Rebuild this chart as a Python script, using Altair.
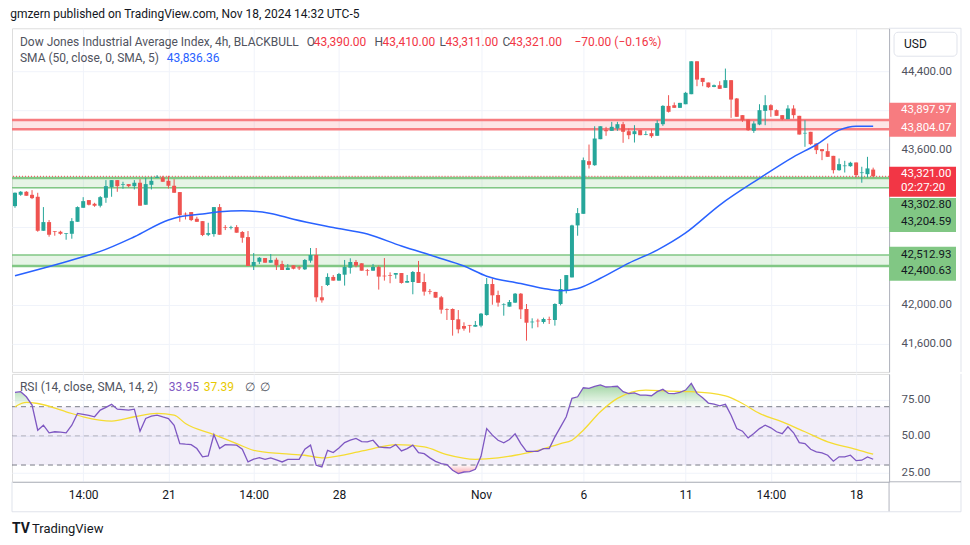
import altair as alt
import pandas as pd

FONT = "Roboto"
UP, DN = "#26A69A", "#EF5350"
GRID = "#F0F3FA"
AXC = "#B2B5BE"
FRAME = "#E0E3EB"
TXT = "#131722"
GRAY = "#50535E"

# ---------------- data ----------------
opens = [43015, 43131, 43162, 43131, 43111, 42762, 42851, 42759, 42752, 42731,
         42731, 42854, 42998, 43077, 43039, 43019, 43101, 43210, 43282, 43234,
         43241, 43220, 43255, 43029, 43234, 43306, 43309, 43275, 43224, 43159,
         42937, 42954, 42885, 42861, 42721, 42728, 43005, 42800, 42793, 42800,
         42749, 42697, 42400, 42444, 42482, 42434, 42465, 42420, 42359, 42407,
         42386, 42366, 42455, 42513, 42079, 42205, 42288, 42250, 42311, 42383,
         42441, 42428, 42359, 42352, 42390, 42301, 42305, 42311, 42328, 42229,
         42236, 42339, 42236, 42144, 42134, 42079, 41959, 41959, 41853, 41784,
         41795, 41777, 41788, 41897, 42215, 42102, 42000, 41983, 42024, 42116,
         41959, 41822, 41839, 41825, 41853, 41846, 42010, 42153, 42283, 42817,
         42936, 43476, 43435, 43702, 43795, 43788, 43812, 43856, 43784, 43754,
         43795, 43747, 43764, 43737, 43856, 44044, 44051, 44024, 44061, 44164,
         44502, 44331, 44284, 44239, 44256, 44229, 44308, 44120, 43949, 43904,
         43788, 43853, 43993, 44051, 44000, 43949, 43908, 44017, 43942, 43761,
         43778, 43658, 43600, 43579, 43531, 43384, 43425, 43425, 43463, 43354,
         43343, 43390]
highs = [43155, 43169, 43169, 43179, 43152, 43005, 42872, 42759, 42762, 42738,
         42892, 43012, 43107, 43077, 43049, 43118, 43282, 43282, 43282, 43265,
         43241, 43282, 43292, 43306, 43316, 43333, 43326, 43326, 43292, 43159,
         42950, 42954, 42906, 42861, 42844, 43005, 43036, 42820, 42813, 42820,
         42759, 42759, 42533, 42492, 42482, 42523, 42485, 42454, 42420, 42407,
         42400, 42472, 42585, 42585, 42195, 42325, 42308, 42329, 42462, 42479,
         42462, 42428, 42370, 42421, 42404, 42482, 42335, 42328, 42328, 42308,
         42349, 42452, 42322, 42164, 42134, 42093, 41965, 41965, 41948, 41822,
         41795, 41836, 41918, 42277, 42273, 42147, 42017, 42051, 42123, 42123,
         42010, 41863, 41859, 41870, 41880, 42017, 42266, 42307, 42824, 42995,
         43514, 43647, 43835, 43835, 43829, 43880, 43880, 43880, 43812, 43846,
         43795, 43784, 43805, 43897, 44051, 44154, 44079, 44075, 44188, 44502,
         44502, 44331, 44284, 44263, 44297, 44427, 44308, 44125, 43949, 43904,
         43887, 44061, 44154, 44061, 44007, 43949, 44051, 44051, 43942, 43897,
         43778, 43658, 43600, 43658, 43531, 43504, 43480, 43470, 43463, 43419,
         43521, 43410]
lows = [42998, 43121, 43121, 43087, 42752, 42762, 42701, 42711, 42721, 42670,
        42680, 42854, 42998, 43022, 43008, 43002, 43049, 43111, 43162, 43193,
        43207, 43186, 43019, 43029, 43186, 43306, 43265, 43196, 43152, 42854,
        42878, 42861, 42854, 42707, 42707, 42701, 42721, 42769, 42776, 42742,
        42639, 42400, 42359, 42420, 42434, 42434, 42359, 42359, 42359, 42366,
        42359, 42359, 42434, 42034, 42024, 42195, 42250, 42250, 42199, 42322,
        42387, 42352, 42301, 42352, 42158, 42250, 42223, 42270, 42219, 42229,
        42110, 42226, 42096, 42110, 42075, 41911, 41846, 41685, 41709, 41736,
        41716, 41777, 41771, 41890, 42003, 41983, 41890, 41983, 42020, 41856,
        41634, 41760, 41771, 41808, 41805, 41788, 41996, 42119, 42283, 42711,
        42936, 43401, 43429, 43702, 43737, 43788, 43788, 43665, 43702, 43668,
        43743, 43743, 43716, 43737, 43839, 43976, 44024, 44024, 44061, 44164,
        44246, 44246, 44229, 44236, 44219, 44229, 43921, 43932, 43880, 43788,
        43767, 43846, 43846, 43932, 43942, 43897, 43908, 43914, 43750, 43624,
        43641, 43549, 43487, 43521, 43350, 43378, 43360, 43419, 43309, 43255,
        43309, 43311]
closes = [43152, 43162, 43121, 43097, 42762, 42851, 42721, 42752, 42731, 42738,
          42861, 43005, 43066, 43029, 43019, 43107, 43220, 43282, 43220, 43241,
          43220, 43255, 43019, 43241, 43275, 43316, 43265, 43224, 43152, 42923,
          42930, 42872, 42854, 42718, 42738, 43005, 42721, 42793, 42800, 42742,
          42690, 42400, 42441, 42485, 42434, 42461, 42407, 42359, 42383, 42372,
          42376, 42462, 42513, 42079, 42048, 42288, 42250, 42318, 42390, 42441,
          42404, 42352, 42352, 42390, 42291, 42294, 42298, 42328, 42226, 42246,
          42339, 42226, 42137, 42137, 42075, 41952, 41952, 41846, 41750, 41757,
          41788, 41795, 41911, 42215, 42099, 42024, 42006, 42030, 42116, 41955,
          41818, 41829, 41832, 41856, 41846, 42010, 42164, 42307, 42817, 42943,
          43487, 43439, 43709, 43835, 43784, 43829, 43856, 43778, 43743, 43784,
          43743, 43754, 43733, 43867, 44044, 43983, 44024, 44075, 44178, 44502,
          44314, 44290, 44236, 44256, 44219, 44308, 44109, 43932, 43897, 43795,
          43863, 44000, 44051, 44000, 43942, 43908, 44017, 43949, 43750, 43767,
          43651, 43590, 43579, 43521, 43384, 43446, 43432, 43460, 43333, 43361,
          43402, 43321]

# SMA (50, close, 0, SMA, 5) at bar indices
sma_idx = [0, 12, 15, 21, 27, 29, 33, 36, 40, 45, 49, 56, 62, 68, 74, 79, 83, 89,
           93, 96, 99, 103, 108, 113, 118, 124, 131, 137, 141, 145, 148, 151]
sma_val = [42300, 42495, 42550, 42700, 42872, 42905, 42935, 42957, 42967, 42940,
           42880, 42795, 42728, 42605, 42495, 42400, 42295, 42220, 42170, 42147,
           42170, 42274, 42430, 42564, 42740, 43026, 43300, 43521, 43645, 43795,
           43835, 43836]

# RSI(14) per bar
rsi_vals = [79.8, 80.3, 76.8, 71.1, 53.9, 57.3, 52.1, 52.8, 52.5, 52.1,
            57.3, 65.4, 64.7, 64.0, 63.1, 67.7, 69.5, 71.6, 68.3, 68.0,
            67.7, 68.3, 53.2, 61.9, 63.5, 64.2, 63.0, 61.9, 57.3, 44.7,
            44.3, 44.0, 41.3, 35.6, 36.2, 50.9, 41.3, 44.0, 43.8, 43.6,
            40.8, 32.1, 34.0, 35.0, 33.9, 34.9, 33.5, 32.1, 33.9, 33.9,
            33.9, 40.8, 43.6, 29.8, 28.7, 40.1, 38.5, 41.7, 45.4, 47.0,
            48.2, 46.0, 45.9, 47.0, 42.5, 42.0, 41.7, 44.0, 39.7, 41.3,
            43.6, 38.5, 37.8, 34.9, 32.5, 31.0, 30.3, 26.4, 24.1, 25.2,
            25.5, 27.1, 36.0, 55.0, 50.5, 47.0, 45.2, 47.5, 51.4, 44.7,
            39.4, 39.4, 39.4, 41.3, 41.3, 49.3, 56.2, 63.1, 75.7, 76.8,
            83.0, 82.6, 84.0, 84.9, 83.5, 83.7, 84.0, 80.3, 79.0, 79.5,
            78.0, 78.0, 77.5, 80.3, 81.9, 79.1, 79.0, 79.8, 81.4, 86.0,
            79.1, 76.1, 72.5, 71.8, 70.6, 71.6, 64.2, 55.0, 53.2, 48.6,
            51.6, 55.0, 57.3, 55.5, 52.8, 51.5, 56.2, 52.1, 45.4, 44.7,
            40.8, 39.0, 38.3, 36.7, 32.6, 35.6, 35.6, 36.7, 33.0, 33.3,
            35.6, 33.95]
# RSI-based MA
ma_idx = [0, 2, 4, 9, 12, 17, 21, 25, 28, 30, 35, 39, 42, 47, 51, 54, 59, 63, 67,
          72, 76, 81, 85, 88, 91, 96, 98, 100, 103, 106, 111, 115, 119, 125, 128,
          131, 135, 139, 143, 148, 151]
ma_val = [70.0, 72.9, 72.2, 66.5, 63.1, 60.1, 63.1, 65.4, 64.2, 58.5, 50.9, 44.7,
          40.1, 37.8, 36.7, 34.9, 37.8, 41.3, 44.0, 42.4, 37.2, 33.9, 34.9, 36.7,
          39.0, 44.7, 47.0, 53.9, 66.5, 75.7, 81.4, 80.7, 80.3, 77.5, 72.2, 65.4,
          59.6, 52.8, 45.9, 40.8, 37.39]

# zones (rectangles) and price levels
band_lo = [43804.07, 43204.59, 42400.63]
band_hi = [43897.97, 43302.80, 42512.93]
band_fill = ["#F77C80", "#81C784", "#81C784"]
level_price = [43897.97, 43804.07, 43302.80, 43204.59, 42512.93, 42400.63]
level_color = ["#F77C80", "#F77C80", "#81C784", "#81C784", "#81C784", "#81C784"]
level_width = [2.5, 2.5, 2.5, 1.5, 1.5, 2.5]
last_price = 43321.00

# axes
tick_idx = [12, 27, 42, 57, 82, 100, 118, 133, 148]
tick_lab = ["14:00", "21", "14:00", "28", "Nov", "6", "11", "14:00", "18"]
price_ticks = [41600, 42000, 42400, 42800, 43200, 43600, 44000, 44400]
price_shown = [41600, 42000, 43600, 44400]
rsi_ticks = [25, 50, 75]

# ---------------- layout ----------------
W, H1, H2 = 878, 344, 108
RIGHT = 950          # right edge of the chart frame, relative to the plot's left
AXH = 30             # height of the time-axis strip
x_scale = alt.Scale(domain=[-0.527, 153.8], nice=False, zero=False, padding=0)
p_scale = alt.Scale(domain=[41313, 44841], nice=False, zero=False, padding=0)
r_scale = alt.Scale(domain=[18.5, 92.5], nice=False, zero=False, padding=0)

lab_expr = "''"
for v, t in reversed(list(zip(tick_idx, tick_lab))):
    lab_expr = f"datum.value == {v} ? '{t}' : ({lab_expr})"

x_axis_top = alt.Axis(values=tick_idx, labels=False, ticks=False, domain=False,
                      grid=True, gridColor=GRID, title=None)
x_axis_bot = alt.Axis(values=tick_idx, labelExpr=lab_expr, ticks=False, grid=True,
                      gridColor=GRID, domainColor=AXC, labelColor=TXT, labelFontSize=12,
                      labelPadding=8, labelFont=FONT, title=None, labelFlush=False)
p_axis = alt.Axis(orient="right", values=price_ticks, format=",.2f",
                  labelExpr="indexof(" + str(price_shown) + ", datum.value) >= 0 ? datum.label : ''",
                  grid=True, gridColor=GRID, ticks=False, domainColor=AXC,
                  labelColor=GRAY, labelFontSize=11.5, labelPadding=12, labelFont=FONT,
                  title=None, labelFlush=False)
r_axis = alt.Axis(orient="right", values=rsi_ticks, format=".2f", grid=True, gridColor=GRID,
                  ticks=False, domainColor=AXC, labelColor=GRAY, labelFontSize=11.5,
                  labelPadding=12, labelFont=FONT, title=None, labelFlush=False)


def px(f, axis=x_axis_top):
    return alt.X(f, type="quantitative", scale=x_scale, axis=axis)


def py(f):
    return alt.Y(f, type="quantitative", scale=p_scale, axis=p_axis)


def ry(f):
    return alt.Y(f, type="quantitative", scale=r_scale, axis=r_axis)


def txt(t, x, y, color, size=12, weight="normal", align="left"):
    return alt.Chart(pd.DataFrame({"t": [t]})).mark_text(
        align=align, baseline="middle", fontSize=size, color=color, font=FONT,
        fontWeight=weight).encode(x=alt.value(x), y=alt.value(y), text="t:N")


def frame_line(x1, x2, y1, y2, color=FRAME):
    return alt.Chart(pd.DataFrame({"k": [0]})).mark_rule(color=color, strokeWidth=1).encode(
        x=alt.value(x1), x2=alt.value(x2), y=alt.value(y1), y2=alt.value(y2))


df = pd.DataFrame({"i": list(range(len(opens))), "o": opens, "h": highs, "l": lows, "c": closes})
df["d"] = ["up" if c >= o else "down" for o, c in zip(opens, closes)]
ccol = alt.Color("d:N", scale=alt.Scale(domain=["up", "down"], range=[UP, DN]), legend=None)

bands = alt.Chart(pd.DataFrame({"lo": band_lo, "hi": band_hi, "col": band_fill})).mark_rect(
    opacity=0.2).encode(y=py("lo"), y2="hi", color=alt.Color("col:N", scale=None))
levels = alt.Chart(pd.DataFrame({"p": level_price, "col": level_color, "w": level_width})).mark_rule().encode(
    y=py("p"), color=alt.Color("col:N", scale=None), strokeWidth=alt.StrokeWidth("w:Q", scale=None))
pline = alt.Chart(pd.DataFrame({"p": [last_price]})).mark_rule(
    color="#F23645", strokeDash=[1, 2], strokeWidth=1).encode(y=py("p"))
wicks = alt.Chart(df).mark_rule(strokeWidth=1).encode(x=px("i"), y=py("l"), y2="h", color=ccol)
bodies = alt.Chart(df).mark_bar(size=4).encode(x=px("i"), y=py("o"), y2="c", color=ccol)
sma = alt.Chart(pd.DataFrame({"i": sma_idx, "v": sma_val})).mark_line(
    color="#2962FF", strokeWidth=1.5, interpolate="monotone").encode(x=px("i"), y=py("v"))


def box(top, bot, o1, o2, fill):
    return alt.Chart(pd.DataFrame({"a": [top], "b": [bot]})).mark_rect(
        color=fill, yOffset=o1, y2Offset=o2).encode(
        x=alt.value(W), x2=alt.value(W + 67), y=py("a"), y2="b")


def boxtext(p, t, dy, color):
    return alt.Chart(pd.DataFrame({"p": [p], "t": [t]})).mark_text(
        align="left", baseline="middle", dy=dy, fontSize=11.5, color=color, font=FONT).encode(
        x=alt.value(W + 12), y=py("p"), text="t:N")


boxes = [
    box(43897.97, 43804.07, -17.3, 7.6, "#F77C80"),
    box(last_price, last_price, -9.5, 20.5, "#F23645"),
    box(43302.80, 43204.59, 20, 44.4, "#81C784"),
    box(42512.93, 42400.63, -8.3, 14.7, "#81C784"),
    boxtext(43897.97, "43,897.97", -10, "white"),
    boxtext(43804.07, "43,804.07", -0.8, "white"),
    boxtext(last_price, "43,321.00", -2.2, "white"),
    boxtext(last_price, "02:27:20", 12.1, "white"),
    boxtext(43302.80, "43,302.80", 27, TXT),
    boxtext(43204.59, "43,204.59", 34.7, TXT),
    boxtext(42512.93, "42,512.93", 0, TXT),
    boxtext(42400.63, "42,400.63", 4.7, TXT),
]

usd_box = alt.Chart(pd.DataFrame({"t": ["USD"]})).mark_rect(
    fill="white", stroke=FRAME, strokeWidth=1, cornerRadius=4).encode(
    x=alt.value(W + 5), x2=alt.value(W + 68), y=alt.value(4), y2=alt.value(28))

legend_top = [
    txt("Dow Jones Industrial Average Index, 4h, BLACKBULL", 8, 14, GRAY),
    txt("O", 295, 14, GRAY), txt("43,390.00", 302, 14, "#F23645"),
    txt("H", 363, 14, GRAY), txt("43,410.00", 371, 14, "#F23645"),
    txt("L", 428, 14, GRAY), txt("43,311.00", 434, 14, "#F23645"),
    txt("C", 491, 14, GRAY), txt("43,321.00", 498, 14, "#F23645"),
    txt("\u221270.00 (\u22120.16%)", 563, 14, "#F23645"),
    txt("SMA (50, close, 0, SMA, 5)", 8, 30, GRAY),
    txt("43,836.36", 155, 30, "#2962FF"),
    usd_box,
    txt("USD", W + 15, 16, TXT, size=12),
    frame_line(W, RIGHT, 0, 0),
    frame_line(RIGHT, RIGHT, 0, H1),
]

price = alt.layer(bands, levels, pline, wicks, bodies, sma, *boxes, *legend_top).properties(
    width=W, height=H1)

# ---------------- RSI pane ----------------
rdf = pd.DataFrame({"i": list(range(len(rsi_vals))), "r": rsi_vals})
rdf["hi"] = [max(v, 70) for v in rsi_vals]
rdf["lo"] = [min(v, 30) for v in rsi_vals]
rdf["b70"] = 70
rdf["b30"] = 30

rbg = alt.Chart(pd.DataFrame({"a": [70], "b": [30]})).mark_rect(
    color="#7E57C2", opacity=0.1).encode(y=ry("a"), y2="b")
rlv = alt.Chart(pd.DataFrame({"v": [70, 30]})).mark_rule(
    color="#787B86", strokeDash=[5, 4], strokeWidth=1).encode(y=ry("v"))
rmid = alt.Chart(pd.DataFrame({"v": [50]})).mark_rule(
    color="#787B86", strokeDash=[5, 4], strokeWidth=1, opacity=0.5).encode(y=ry("v"))
ob = alt.Chart(rdf).mark_area(
    color=alt.Gradient(gradient="linear", x1=0, x2=0, y1=0, y2=1,
                       stops=[alt.GradientStop(color="rgba(76,175,80,0.55)", offset=0),
                              alt.GradientStop(color="rgba(76,175,80,0.02)", offset=1)])
).encode(x=px("i", x_axis_bot), y=ry("hi"), y2="b70")
osd = alt.Chart(rdf).mark_area(
    color=alt.Gradient(gradient="linear", x1=0, x2=0, y1=0, y2=1,
                       stops=[alt.GradientStop(color="rgba(242,54,69,0.02)", offset=0),
                              alt.GradientStop(color="rgba(242,54,69,0.45)", offset=1)])
).encode(x=px("i", x_axis_bot), y=ry("b30"), y2="lo")
rline = alt.Chart(rdf).mark_line(color="#7E57C2", strokeWidth=1.3).encode(
    x=px("i", x_axis_bot), y=ry("r"))
maline = alt.Chart(pd.DataFrame({"i": ma_idx, "v": ma_val})).mark_line(
    color="#F5DC32", strokeWidth=1.3, interpolate="monotone").encode(
    x=px("i", x_axis_bot), y=ry("v"))

legend_rsi = [
    txt("RSI (14, close, SMA, 14, 2)", 8, 13, GRAY),
    txt("33.95", 157, 13, "#7E57C2"),
    txt("37.39", 192, 13, "#E8C900"),
    txt("\u2205", 233, 13, GRAY),
    txt("\u2205", 248, 13, GRAY),
    txt("TV", 0, 155, TXT, size=14, weight="bold"),
    txt("TradingView", 20, 155, TXT, size=13),
    frame_line(RIGHT, RIGHT, 0, H2 + AXH),
    frame_line(W, W, H2, H2 + AXH, AXC),
    frame_line(W, RIGHT, H2, H2, AXC),
    frame_line(0, RIGHT, H2 + AXH, H2 + AXH),
    frame_line(0, 0, H2, H2 + AXH),
]

rsi = alt.layer(rbg, ob, osd, rlv, rmid, maline, rline, *legend_rsi).properties(width=W, height=H2)

chart = alt.vconcat(price, rsi, spacing=0).properties(
    title=alt.TitleParams("gmzern published on TradingView.com, Nov 18, 2024 14:32 UTC-5",
                          anchor="start", fontSize=12, fontWeight="normal", color=TXT,
                          font=FONT, offset=6),
    padding={"left": 2, "top": 0, "right": 0, "bottom": 5},
).configure_view(stroke=FRAME).configure(background="white")

chart.save("out.html", embed_options={"renderer": "svg", "actions": False})
